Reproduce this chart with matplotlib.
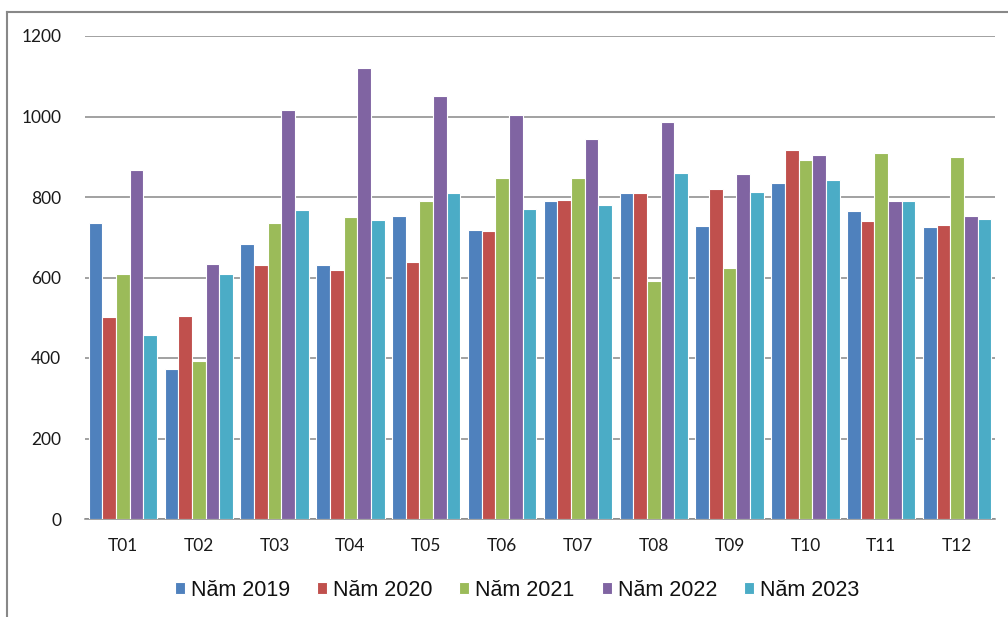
import matplotlib
matplotlib.use("Agg")
import matplotlib.pyplot as plt
import numpy as np
from matplotlib.lines import Line2D

months = ["T01", "T02", "T03", "T04", "T05", "T06", "T07", "T08", "T09", "T10", "T11", "T12"]
series_names = ["Năm 2019", "Năm 2020", "Năm 2021", "Năm 2022", "Năm 2023"]
y2019 = [736, 372, 682, 630, 754, 717, 790, 811, 728, 834, 764, 725]
y2020 = [501, 504, 630, 618, 638, 716, 793, 811, 821, 917, 741, 730]
y2021 = [609, 393, 736, 751, 790, 847, 847, 591, 623, 891, 909, 899]
y2022 = [867, 633, 1015, 1120, 1051, 1004, 943, 986, 857, 904, 790, 754]
y2023 = [457, 609, 767, 744, 811, 769, 780, 860, 813, 841, 790, 746]
yticks = [0, 200, 400, 600, 800, 1000, 1200]

colors = ["#4F81BD", "#C0504D", "#9BBB59", "#8064A2", "#4BACC6"]
data = [y2019, y2020, y2021, y2022, y2023]

plt.rcParams['font.family'] = ['Lato', 'DejaVu Sans']

W, H = 1008, 617
fig = plt.figure(figsize=(W / 100, H / 100), dpi=100)
ax = fig.add_axes([85 / W, (H - 519) / H, (995 - 85) / W, (519 - 36) / H])

x = np.arange(len(months))
bw = 0.18
for i, (vals, c, name) in enumerate(zip(data, colors, series_names)):
    ax.bar(x + (i - 2) * bw, vals, width=bw, color=c, edgecolor="white",
           linewidth=0.8, label=name, zorder=3)

ax.set_xlim(-0.5, len(months) - 0.5)
ax.set_ylim(0, 1200)
ax.set_yticks(yticks)
ax.set_yticklabels([str(v) for v in yticks])
ax.set_xticks(x)
ax.set_xticklabels(months)
ax.yaxis.grid(True, color="#888888", linewidth=1.1, zorder=0)
ax.set_axisbelow(True)
for s in ["top", "right", "left"]:
    ax.spines[s].set_visible(False)
ax.spines["bottom"].set_color("#888888")
ax.spines["bottom"].set_linewidth(1.1)
ax.tick_params(axis="both", length=0, labelsize=12.5, colors="#1a1a1a")
ax.tick_params(axis="y", pad=17)
ax.tick_params(axis="x", pad=14)

leg = fig.legend(loc="center", bbox_to_anchor=(517 / W, (H - 590) / H), ncol=5,
                 frameon=False, prop={"family": ["Liberation Sans", "DejaVu Sans"], "size": 15.5},
                 handlelength=0.47, handleheight=0.47,
                 handletextpad=0.28, columnspacing=1.25)
for t in leg.get_texts():
    t.set_color("#111111")

# outer frame (left and top)
fig.add_artist(Line2D([7 / W, 7 / W], [0, (H - 12) / H], transform=fig.transFigure,
                      color="#888888", linewidth=1.5))
fig.add_artist(Line2D([7 / W, 1], [(H - 12) / H, (H - 12) / H], transform=fig.transFigure,
                      color="#888888", linewidth=1.5))

fig.savefig("out.png", dpi=100)
